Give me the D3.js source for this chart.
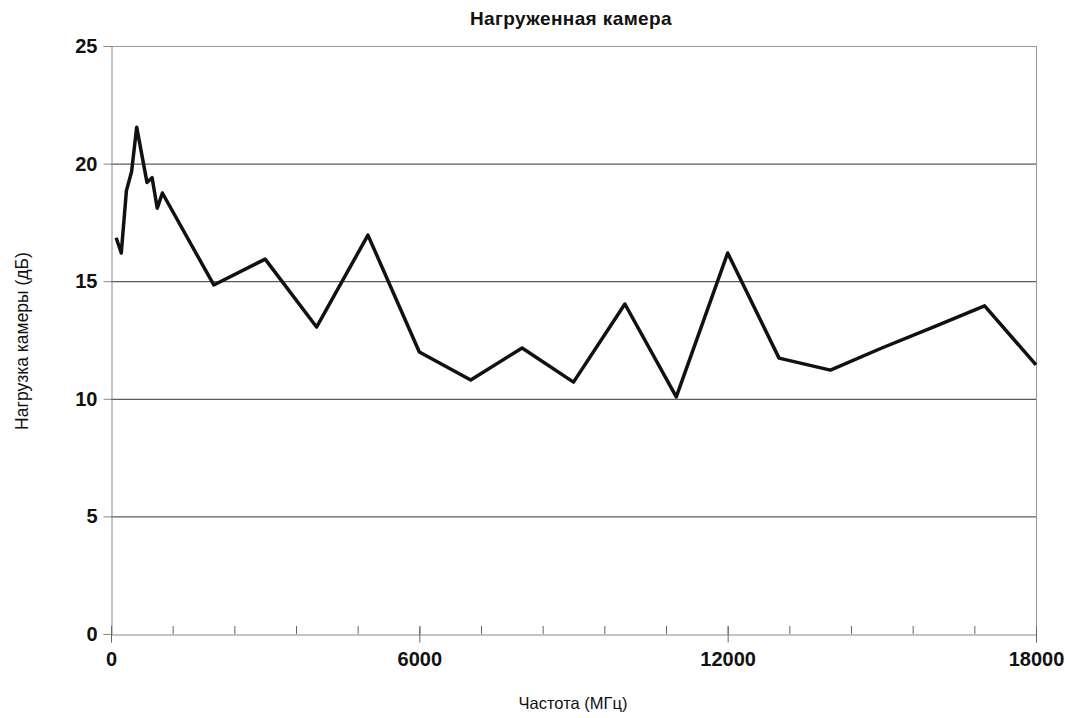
<!DOCTYPE html>
<html><head><meta charset="utf-8">
<script src="https://cdn.jsdelivr.net/npm/d3@7"></script>
<style>body{margin:0;background:#fff}svg{display:block}text{font-family:"Liberation Sans",Arial,sans-serif;fill:#111}</style>
</head><body><svg id="c" width="1065" height="718"></svg>
<script>
const freqs = [100,200,300,400,500,700,800,900,1000,2000,3000,4000,5000,6000,7000,8000,9000,10000,11000,12000,13000,14000,15000,16000,17000,18000];
const loads = [16.85,16.2,18.85,19.65,21.55,19.2,19.4,18.1,18.75,14.84,15.94,13.05,16.96,11.99,10.8,12.16,10.71,14.03,10.08,16.2,11.73,11.22,12.16,13.05,13.95,11.44];
const xMajorTicks = [0,6000,12000,18000];
const xMinorStep = 1200;
const yTicks = [0,5,10,15,20,25];
const title = "Нагруженная камера";
const xTitle = "Частота (МГц)";
const yTitle = "Нагрузка камеры (дБ)";

const svg = d3.select("#c");
const L=111, R=1036, T=46, B=634;
const x = d3.scaleLinear().domain([0,18000]).range([L,R]);
const y = d3.scaleLinear().domain([0,25]).range([B,T]);

svg.append("g").selectAll("line").data(yTicks.filter(d=>d>0&&d<25)).join("line")
  .attr("x1",L).attr("x2",R).attr("y1",d=>y(d)+0.5).attr("y2",d=>y(d)+0.5)
  .attr("stroke","#333").attr("stroke-width",1);
svg.append("line").attr("x1",L).attr("x2",R).attr("y1",T+0.5).attr("y2",T+0.5).attr("stroke","#999");
svg.append("line").attr("x1",R+0.5).attr("x2",R+0.5).attr("y1",T).attr("y2",B).attr("stroke","#999");

const yAx = svg.append("g").attr("transform",`translate(${L+0.5},0)`)
  .call(d3.axisLeft(y).tickValues(yTicks).tickSize(8).tickPadding(6));
yAx.select(".domain").attr("stroke","#888");
yAx.selectAll(".tick line").attr("stroke","#888");
yAx.selectAll("text").attr("font-size",20).attr("font-weight","bold").attr("fill","#111");

const minor = d3.range(0,18001,xMinorStep);
svg.append("g").selectAll("line").data(minor).join("line")
  .attr("x1",d=>x(d)+0.5).attr("x2",d=>x(d)+0.5).attr("y1",B-8).attr("y2",B)
  .attr("stroke","#666");
const xAx = svg.append("g").attr("transform",`translate(0,${B+0.5})`)
  .call(d3.axisBottom(x).tickValues(xMajorTicks).tickSize(8).tickPadding(9).tickFormat(d3.format("d")));
xAx.select(".domain").attr("stroke","#888");
xAx.selectAll(".tick line").attr("stroke","#666").attr("y1",-8);
xAx.selectAll("text").attr("font-size",20).attr("font-weight","bold").attr("fill","#111");

svg.append("path").datum(freqs.map((f,i)=>[f,loads[i]]))
  .attr("d",d3.line().x(d=>x(d[0])).y(d=>y(d[1])))
  .attr("fill","none").attr("stroke","#111").attr("stroke-width",3.5).attr("stroke-linejoin","round");

svg.append("text").attr("x",571).attr("y",25).attr("text-anchor","middle")
  .attr("font-size",19).attr("font-weight","bold").attr("letter-spacing",0.4).text(title);
svg.append("text").attr("x",573).attr("y",709).attr("text-anchor","middle")
  .attr("font-size",16.5).text(xTitle);
svg.append("text").attr("transform","translate(28,341) rotate(-90)").attr("text-anchor","middle")
  .attr("font-size",17.5).text(yTitle);
</script></body></html>
